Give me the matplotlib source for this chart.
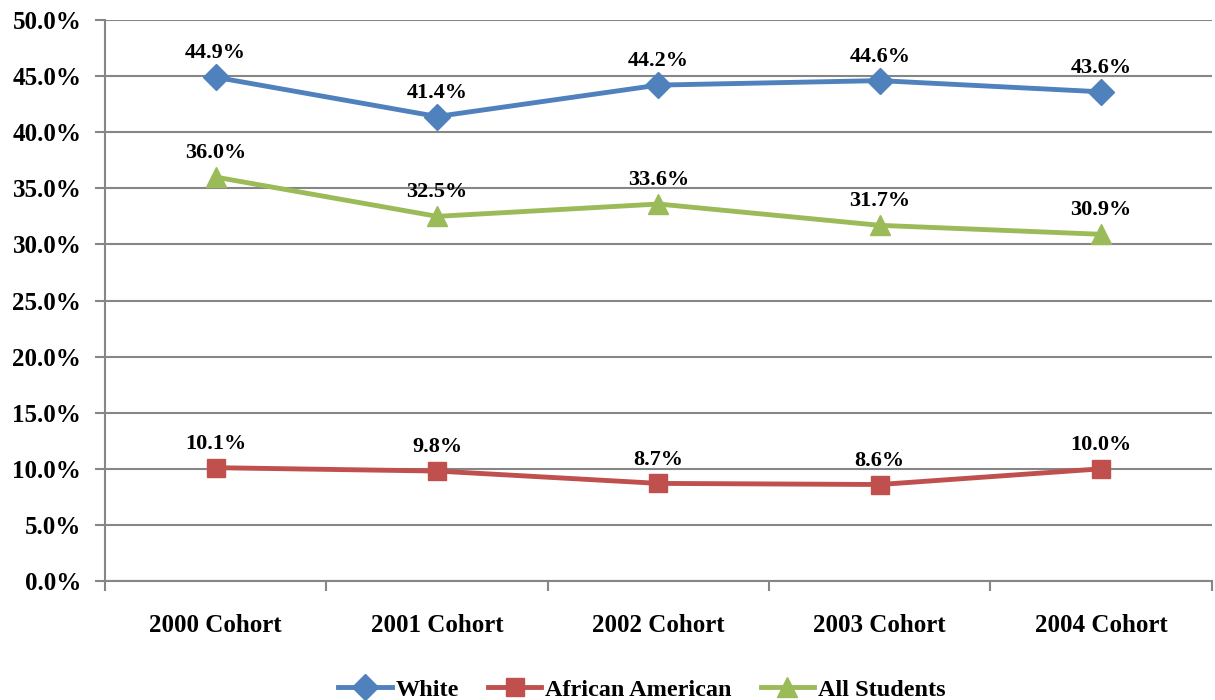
import matplotlib.pyplot as plt
from matplotlib.ticker import FixedLocator, PercentFormatter

cohorts = ['2000 Cohort', '2001 Cohort', '2002 Cohort', '2003 Cohort', '2004 Cohort']
white = [44.9, 41.4, 44.2, 44.6, 43.6]
african_american = [10.1, 9.8, 8.7, 8.6, 10.0]
all_students = [36.0, 32.5, 33.6, 31.7, 30.9]

plt.rcParams['font.family'] = ['Liberation Serif', 'DejaVu Serif']
plt.rcParams['font.weight'] = 'bold'

fig = plt.figure(figsize=(12.15, 7), dpi=100)
ax = fig.add_axes([0.0864, 0.17, 0.911, 0.8014])

series = [
    ('White', white, '#4F81BD', 'D', 13),
    ('African American', african_american, '#C0504D', 's', 13),
    ('All Students', all_students, '#9BBB59', '^', 14),
]
x = range(len(cohorts))
for name, vals, color, marker, ms in series:
    ax.plot(x, vals, color=color, lw=3.5, marker=marker, ms=ms, label=name, zorder=3)
    for xi, v in zip(x, vals):
        ax.annotate('{:.1f}%'.format(v), (xi, v), xytext=(0, 10), textcoords='offset points',
                    ha='center', va='bottom', fontsize=16, fontweight='bold')

ax.set_xlim(-0.5, 4.5)
ax.set_ylim(0, 50)
ax.set_yticks(range(0, 51, 5))
ax.yaxis.set_major_formatter(PercentFormatter(decimals=1))
ax.xaxis.set_major_locator(FixedLocator([i - 0.5 for i in range(6)]))
ax.xaxis.set_major_formatter(plt.NullFormatter())
ax.xaxis.set_minor_locator(FixedLocator(list(x)))
ax.set_xticklabels(cohorts, minor=True)
ax.tick_params(axis='x', which='minor', length=0, pad=24, labelsize=18)
ax.tick_params(axis='x', which='major', length=7, width=1.5, color='#868686')
ax.tick_params(axis='y', length=7, width=1.5, color='#868686', labelsize=18, pad=10)

ax.grid(axis='y', color='#868686', lw=1.5, zorder=0)
for s in ['top', 'right']:
    ax.spines[s].set_visible(False)
for s in ['left', 'bottom']:
    ax.spines[s].set_color('#868686')
    ax.spines[s].set_linewidth(1.5)

ax.legend(loc='upper center', bbox_to_anchor=(0.485, -0.135), ncol=3, frameon=False,
          fontsize=17.5, handlelength=2.2, columnspacing=1.2, handletextpad=0.15)

fig.savefig('out.png', dpi=100)
